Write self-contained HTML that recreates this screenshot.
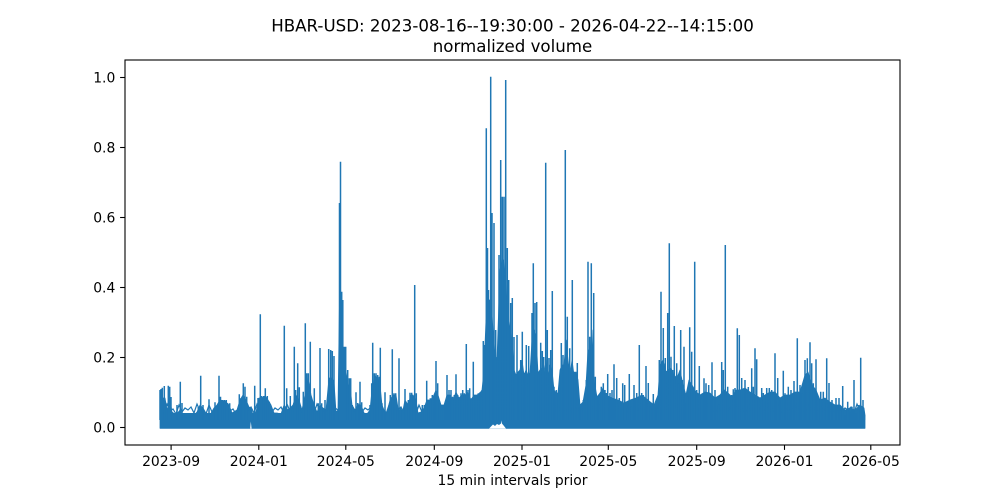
<!DOCTYPE html>
<html>
<head>
<meta charset="utf-8">
<style>
html,body{margin:0;padding:0;background:#fff;}
svg{display:block;}
text{font-family:"DejaVu Sans","Liberation Sans",sans-serif;fill:#000;}
</style>
</head>
<body>
<svg width="1000" height="500" viewBox="0 0 1000 500" xmlns="http://www.w3.org/2000/svg">
<rect x="0" y="0" width="1000" height="500" fill="#fff"/>

<!-- dense base band -->
<rect x="160" y="413" width="705" height="15.3" fill="#1f77b4"/>

<!-- valley envelope -->
<polygon fill="#1f77b4" stroke="#1f77b4" stroke-width="0.8" stroke-linejoin="round" points="
160,400 162,398 165,398 167,410 170,400 172,412 176,415 180,410 183,417 188,418 193,416 197,412 200,405 203,408 207,415 210,415 214,408 217,405 220,400 225,401 229,405 232,413 237,410 240,400 243,395 246,400 249,407 251,408 253,415 256,412 259,398 262,398 265,396 268,400 271,405 274,413 277,413 281,414 284,405 287,410 290,408 293,405 296,395 299,400 302,410 305,395 308,378 311,395 314,405 317,412 320,405 323,408 326,410 329,378 332,378 334,382 336,412 338,410 339.5,300 341.5,300 343,355 346,372 348,385 350,385 352,405 355,410 358,405 361,405 364,413 367,414 370,410 372,390 375,376 378,378 380,385 382,405 384,410 387,413 390,400 393,395 396,395 398,408 400,410 403,410 405,400 408,405 411,395 413,395 416,400 418,413 421,412 424,408 427,400 430,400 433,397 436,390 438,395 441,405 444,405 447,395 450,395 453,400 456,392 459,398 462,395 465,395 468,392 471,400 474,395 477,395 480,393 482,390 484,370 486,320 488,330 489,300 491,300 493,330 495,355 497,360 498,330 500,270 502,260 504,260 506,290 508,310 510,330 512,340 514,370 516,375 518,372 520,370 522,360 524,375 526,370 528,375 530,373 532,340 534,330 536,335 538,373 540,370 542,368 544,375 546,360 548,375 550,365 552,370 554,390 556,393 558,393 560,370 562,365 564,365 566,340 568,360 570,375 572,360 574,375 576,372 578,380 580,405 583,402 586,385 588,350 590,350 592,330 594,380 597,397 600,393 603,388 606,395 612,398 618,400 624,403 630,400 636,398 642,395 648,400 654,405 658,395 660,365 663,360 666,372 668,370 671,368 674,375 677,378 680,370 683,385 686,395 689,380 692,385 696,392 700,395 705,392 710,393 715,398 720,395 724,390 728,393 732,397 736,390 740,390 745,388 750,392 755,395 760,398 765,395 770,392 775,392 780,398 785,395 790,395 795,392 800,392 805,375 808,372 812,385 816,390 820,400 825,398 830,402 835,405 840,405 845,410 850,408 855,410 860,405 864,408 865,415 865,428.3 160,428.3"/>

<!-- band texture -->
<polyline fill="none" stroke="#1f77b4" stroke-width="1.2" points="
161,407 164,413 167,404 170,411 173,409 176,414 179,405 182,412 185,408 188,410
191,407 194,413 197,404 200,411 203,409 206,414 209,405 212,412 215,408 218,410
221,407 224,413 227,404 230,411 233,409 236,414 239,405 242,412 245,408 248,410
251,407 254,413 257,404 260,411 263,409 266,414 269,405 272,412 275,408 278,410
281,407 284,413 287,404 290,411 293,409 296,414 299,405 302,412 305,408 308,410
311,407 314,413 317,404 320,411 323,409 326,414 329,405 332,412 335,408 338,410
341,407 344,413 347,404 350,411 353,409 356,414 359,405 362,412 365,408 368,410
371,407 374,413 377,404 380,411 383,409 386,414 389,405 392,412 395,408 398,410
401,407 404,413 407,404 410,411 413,409 416,414 419,405 422,412 425,408 428,410
431,407 434,413 437,404 440,411 443,409 446,414 449,405 452,412 455,408 458,410
461,407 464,413 467,404 470,411 473,409 476,414 479,405 482,412 485,408 488,410
491,407 494,413 497,404 500,411 503,409 506,414 509,405 512,412 515,408 518,410
521,407 524,413 527,404 530,411 533,409 536,414 539,405 542,412 545,408 548,410
551,407 554,413 557,404 560,411 563,409 566,414 569,405 572,412 575,408 578,410
581,407 584,413 587,404 590,411 593,409 596,414 599,405 602,412 605,408 608,410
611,407 614,413 617,404 620,411 623,409 626,414 629,405 632,412 635,408 638,410
641,407 644,413 647,404 650,411 653,409 656,414 659,405 662,412 665,408 668,410
671,407 674,413 677,404 680,411 683,409 686,414 689,405 692,412 695,408 698,410
701,407 704,413 707,404 710,411 713,409 716,414 719,405 722,412 725,408 728,410
731,407 734,413 737,404 740,411 743,409 746,414 749,405 752,412 755,408 758,410
761,407 764,413 767,404 770,411 773,409 776,414 779,405 782,412 785,408 788,410
791,407 794,413 797,404 800,411 803,409 806,414 809,405 812,412 815,408 818,410
821,407 824,413 827,404 830,411 833,409 836,414 839,405 842,412 845,408 848,410
851,407 854,413 857,404 860,411 863,409"/>

<!-- spikes -->
<path fill="none" stroke="#1f77b4" stroke-width="1.5" d="
M160,420V390 M161,420V389 M162.3,420V387.7 M164.3,420V386 M168.3,420V385.7 M169.7,420V386.7 M171,420V397 M177,420V405 M180.3,420V381.7 M182,420V403 M198.3,420V406.7 M200.7,420V375.7 M203,420V405 M209,420V399.3 M215,420V402.3 M216.5,420V406 M219,420V375.7 M220.5,420V396.7 M222.5,420V400 M224.5,420V400 M226.3,420V400 M227.5,420V403 M229.7,420V403.3 M239.3,420V394.3 M241,420V398 M243.3,420V383.3 M245,420V386.7 M246.7,420V396.7 M254.7,420V385.7 M258,420V398 M260.3,420V314.3 M261.7,420V396 M263.7,420V396 M265.3,420V388.3 M267.3,420V396 M269.3,420V401.7 M284.3,420V325.7 M286.7,420V388.3 M290.3,420V396 M294.3,420V346.7 M295.7,420V390 M297.7,420V363.3 M299.3,420V387.3 M303.3,420V391.7 M305.3,420V323.3 M306.7,420V373.3 M308.3,420V373.3 M310.3,420V341.7 M314.3,420V388.3 M318.3,420V403.3 M320,420V348 M321.7,420V403.3 M325,420V400 M328.7,420V349 M330.7,420V350 M332.3,420V351 M334,420V356 M339.5,420V203 M340.5,420V161.7 M341.7,420V291.7 M342.8,420V300 M344.3,420V346.7 M345.7,420V346.7
M347.7,420V370 M349.3,420V378.3 M350.7,420V378.3 M352.3,420V405 M356,420V392.3 M357.7,420V403 M360,420V381.7 M361.7,420V402.3 M370,420V405 M371.7,420V383.3 M372.7,420V342.7 M374.3,420V373.3 M376,420V373.3 M377.7,420V375 M379.3,420V376.7 M380.3,420V347.7 M382,420V403.3 M385,420V392.3 M390.3,420V395 M392.3,420V349.3 M394,420V393.3 M395.7,420V393.3 M399,420V358.3 M400.7,420V406.7 M405,420V389 M406.7,420V403.3 M408.3,420V400 M410,420V392.7 M411.7,420V392.7 M413.3,420V396.7 M414.7,420V285 M416.3,420V393.3 M422.3,420V405 M424.3,420V405 M426.7,420V380.7 M428.3,420V401.7 M430.3,420V398.3 M432.3,420V395 M434,420V396.7 M436,420V361 M437.7,420V383.3 M439.3,420V403.3 M443.3,420V406.7 M445,420V403.3 M447,420V375 M449,420V390 M451,420V390 M452.7,420V396.7 M454.3,420V395 M456,420V374.3 M457.7,420V395 M459.3,420V398.3 M461,420V393.3 M462.7,420V390 M464.3,420V393.3 M466.3,420V344 M468,420V390 M469.7,420V388.3 M471.7,420V398.3 M473.3,420V361.7 M475,420V398.3 M476.7,420V396.7 M478.3,420V393.3 M480,420V392.3 M481.7,420V396.7
M483.3,420V341 M484.5,420V345 M486.3,420V128.3 M487.5,420V248 M488.5,420V290 M490.7,420V76.7 M492,420V213 M494,420V223 M495.7,420V330 M497.3,420V357 M499,420V255 M500.7,420V160 M502.3,420V196.7 M504,420V196.7 M505.7,420V80 M507.3,420V248 M508.7,420V280 M510.7,420V303 M512.3,420V298 M514,420V337 M515.7,420V375 M517,420V335 M519,420V375 M520.7,420V360 M522.3,420V331.7 M524,420V373 M526.3,420V345 M528.7,420V346 M530.7,420V373 M532,420V313 M533.3,420V263.3 M535,420V303 M536.7,420V302 M538.7,420V373 M540.7,420V342.7 M542.3,420V351 M543.7,420V357 M545.7,420V162.7 M547.3,420V330 M549,420V358 M550.7,420V350 M552.3,420V291 M554,420V386.7 M556.3,420V390 M558.7,420V390 M561.3,420V343 M563,420V355 M565.3,420V150 M567.3,420V316.7 M569.7,420V348.3 M572.3,420V280 M574.7,420V371.7 M577.3,420V363 M580,420V406.7 M583.3,420V400 M586.3,420V380 M588,420V261.7 M589.7,420V336.7 M591.3,420V263.3 M593.7,420V293 M595.3,420V376.7 M598,420V396.7 M601.3,420V386.7 M603.3,420V383.3 M605,420V390 M606.3,420V393
M607.7,420V374 M610,420V393 M612,420V390 M614,420V364.3 M616.7,420V378 M619.3,420V398 M622.7,420V383.3 M624.7,420V385 M626,420V408 M629.3,420V374 M631.7,420V406.7 M634,420V385 M636.7,420V393 M639.3,420V345 M641.7,420V393 M643.3,420V395 M646,420V366 M648.3,420V383 M650.7,420V406.7 M653.3,420V394 M656,420V406.7 M659.3,420V360 M661,420V291.7 M663.3,420V328 M665.3,420V358 M667.7,420V313 M669.3,420V243.3 M671,420V356.7 M672.7,420V370 M674.3,420V326 M676.7,420V363.3 M678.7,420V383.3 M680.7,420V330 M682.3,420V380 M684,420V346.7 M686,420V403.3 M687.7,420V396.7 M689.7,420V327.3 M691.7,420V351.7 M694.7,420V261.7 M696.7,420V390 M699.3,420V366 M701.7,420V398.3 M704,420V378.3 M706,420V383.3 M708.7,420V385 M710,420V393.3 M712,420V362.3 M715,420V390 M718.3,420V405 M721.7,420V362 M723.3,420V370 M725.3,420V245 M727.7,420V386.7 M731.7,420V395 M733.3,420V389.3 M735,420V388 M737.3,420V328.3 M739.3,420V335
M741.7,420V378 M745,420V380 M748.3,420V387 M751.7,420V368.3 M753.3,420V386.7 M755,420V348.3 M756.7,420V359.3 M758.3,420V396.7 M761.7,420V388 M763.3,420V393 M766.7,420V388 M769.3,420V388 M771.7,420V390 M775,420V353.3 M777.7,420V378 M780,420V400 M783.3,420V370.7 M785,420V393.3 M788.3,420V386.7 M791,420V390 M794,420V381 M797.3,420V338.3 M800,420V385 M802.7,420V393.3 M805,420V360 M807.3,420V358.3 M810,420V342.3 M811.7,420V363.3 M813.3,420V383.3 M816,420V359.3 M818.3,420V400 M820.7,420V391.7 M823.3,420V391.7 M826.7,420V358.3 M829,420V383 M832,420V400 M836,420V398 M839,420V398 M842.7,420V386 M845,420V415 M847.7,420V401.7 M850,420V411.7 M852,420V406.7 M854,420V380 M856,420V413 M858.3,420V405 M860.7,420V357.7 M863,420V400 M864.5,420V415
"/>

<!-- white gaps at bottom of band -->
<polygon fill="#fff" points="250.2,428.6 250.8,421.5 251.6,428.6"/>
<polygon fill="#fff" points="489,428.6 491,426.5 493,424.5 495,426 497,424 499,425 501,423.5 501.4,420.5 501.9,423.5 504,426 506,428.6"/>

<!-- axes frame -->
<rect x="125" y="60" width="775" height="385" fill="none" stroke="#000" stroke-width="1.1"/>

<!-- y ticks -->
<g stroke="#000" stroke-width="1.1">
<line x1="120.1" y1="427.5" x2="125" y2="427.5"/>
<line x1="120.1" y1="357.5" x2="125" y2="357.5"/>
<line x1="120.1" y1="287.5" x2="125" y2="287.5"/>
<line x1="120.1" y1="217.5" x2="125" y2="217.5"/>
<line x1="120.1" y1="147.5" x2="125" y2="147.5"/>
<line x1="120.1" y1="77.5" x2="125" y2="77.5"/>
</g>
<g font-size="13.9" text-anchor="end">
<text x="115.3" y="432.5">0.0</text>
<text x="115.3" y="362.5">0.2</text>
<text x="115.3" y="292.5">0.4</text>
<text x="115.3" y="222.5">0.6</text>
<text x="115.3" y="152.5">0.8</text>
<text x="115.3" y="82.5">1.0</text>
</g>

<!-- x ticks -->
<g stroke="#000" stroke-width="1.1">
<line x1="171.1" y1="445" x2="171.1" y2="449.9"/>
<line x1="258.8" y1="445" x2="258.8" y2="449.9"/>
<line x1="345.8" y1="445" x2="345.8" y2="449.9"/>
<line x1="434.3" y1="445" x2="434.3" y2="449.9"/>
<line x1="522" y1="445" x2="522" y2="449.9"/>
<line x1="608.3" y1="445" x2="608.3" y2="449.9"/>
<line x1="696.7" y1="445" x2="696.7" y2="449.9"/>
<line x1="784.5" y1="445" x2="784.5" y2="449.9"/>
<line x1="870.8" y1="445" x2="870.8" y2="449.9"/>
</g>
<g font-size="13.9" text-anchor="middle">
<text x="171.1" y="466">2023-09</text>
<text x="258.8" y="466">2024-01</text>
<text x="345.8" y="466">2024-05</text>
<text x="434.3" y="466">2024-09</text>
<text x="522" y="466">2025-01</text>
<text x="608.3" y="466">2025-05</text>
<text x="696.7" y="466">2025-09</text>
<text x="784.5" y="466">2026-01</text>
<text x="870.8" y="466">2026-05</text>
</g>

<!-- x label -->
<text x="512.5" y="485" font-size="13.9" text-anchor="middle">15 min intervals prior</text>

<!-- title -->
<text x="512.5" y="31.5" font-size="16.67" text-anchor="middle">HBAR-USD: 2023-08-16--19:30:00 - 2026-04-22--14:15:00</text>
<text x="512.5" y="51.8" font-size="16.67" text-anchor="middle">normalized volume</text>
</svg>
</body>
</html>
